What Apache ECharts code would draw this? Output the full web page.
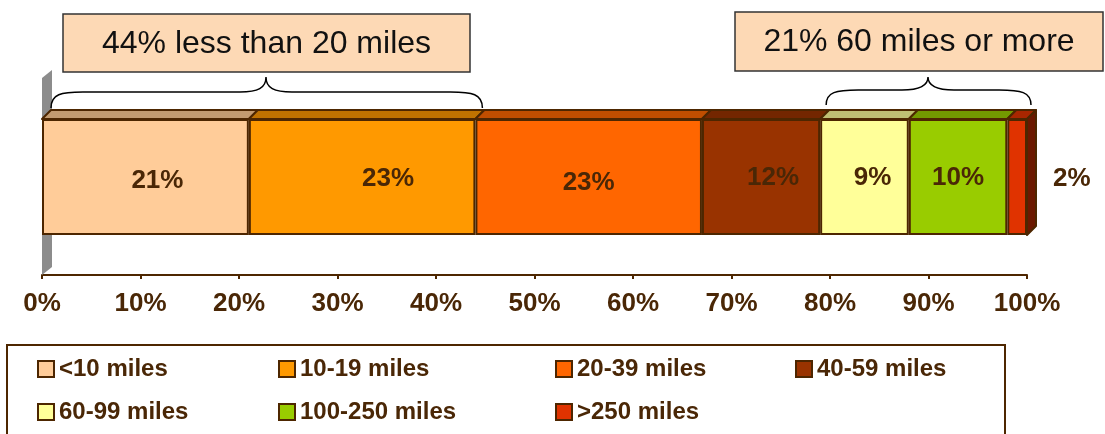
<!DOCTYPE html>
<html>
<head>
<meta charset="utf-8">
<script src="https://cdn.jsdelivr.net/npm/echarts@6/dist/echarts.min.js"></script>
<style>
html,body{margin:0;padding:0;background:#fff;}
#chart{width:1105px;height:434px;}
</style>
</head>
<body>
<div id="chart"></div>
<script>
// ---- data ----
const categories = ['<10 miles', '10-19 miles', '20-39 miles', '40-59 miles', '60-99 miles', '100-250 miles', '>250 miles'];
const values = [21, 23, 23, 12, 9, 10, 2];
const tickLabels = ['0%', '10%', '20%', '30%', '40%', '50%', '60%', '70%', '80%', '90%', '100%'];
const calloutTexts = ['44% less than 20 miles', '21% 60 miles or more'];
const calloutGroups = [[0, 1], [4, 6]]; // category index ranges covered by each brace

// ---- styles ----
const frontColors = ['#ffcc99', '#ff9900', '#ff6600', '#993300', '#ffff99', '#99cc00', '#e03300'];
const topColors   = ['#c39b70', '#c07200', '#c04e00', '#732600', '#bfbf73', '#739900', '#a82600'];
const sideColors  = ['#8a6a48', '#864f00', '#863600', '#4f1a00', '#86864f', '#4f6b00', '#6b1800'];
const labelOffsets = [[12, 4], [26, 2], [0, 6], [12, 1], [8, 1], [0, 1], [0, 2]];
const braceGeom = [ // [left pad, right pad, tip x, end y, line y, tip y]
  [9, 7, 266, 108, 92, 77],
  [6, 4, 928, 105, 90, 77]
];
const brown = '#4d2600';
const textBrown = '#4a2706';
const FONT = 'Liberation Sans, Arial, sans-serif';
const DEPTH = 9;

const starts = [];
let acc = 0;
values.forEach(v => { starts.push(acc); acc += v; });

const chart = echarts.init(document.getElementById('chart'));

const barSeries = categories.map((name, i) => ({
  name: name,
  type: 'bar',
  stack: 'total',
  barWidth: '100%',
  z: 3,
  data: [values[i]],
  itemStyle: { color: frontColors[i], borderColor: brown, borderWidth: 2 },
  label: {
    show: true,
    position: i === categories.length - 1 ? 'right' : 'inside',
    distance: 26,
    offset: labelOffsets[i],
    formatter: '{c}%',
    fontFamily: FONT,
    fontWeight: 'bold',
    fontSize: 26,
    color: textBrown
  },
  emphasis: { disabled: true }
}));

const faceData = values.map((v, i) => [starts[i], starts[i] + v, i]);

const faceSeries = {
  type: 'custom',
  name: 'faces',
  z: 4,
  silent: true,
  encode: { x: [0, 1] },
  data: faceData,
  renderItem: function (params, api) {
    const s = api.value(0), e = api.value(1), i = api.value(2);
    const p0 = api.coord([s, 0]);
    const p1 = api.coord([e, 0]);
    const h = api.size([0, 1])[1];
    const yTop = p0[1] - h / 2, yBot = p0[1] + h / 2;
    const x0 = p0[0], x1 = p1[0], d = DEPTH;
    const children = [{
      type: 'polygon',
      shape: { points: [[x0, yTop], [x1, yTop], [x1 + d, yTop - d], [x0 + d, yTop - d]] },
      style: { fill: topColors[i], stroke: brown, lineWidth: 2, lineJoin: 'round' }
    }];
    if (i === values.length - 1) {
      children.push({
        type: 'polygon',
        shape: { points: [[x1, yTop], [x1 + d, yTop - d], [x1 + d, yBot - d], [x1, yBot]] },
        style: { fill: sideColors[i], stroke: brown, lineWidth: 2, lineJoin: 'round' }
      });
    }
    return { type: 'group', children: children };
  }
};

const wallSeries = {
  type: 'custom',
  name: 'wall',
  z: 1,
  silent: true,
  encode: { x: 0 },
  data: [[0]],
  renderItem: function (params, api) {
    const p = api.coord([0, 0]);
    const h = api.size([0, 1])[1];
    const yTop = p[1] - h / 2, yBot = p[1] + h / 2;
    const x = p[0];
    return {
      type: 'polygon',
      shape: { points: [[x, yTop - 41], [x + 10, yTop - 49], [x + 10, yBot + 32], [x, yBot + 40]] },
      style: { fill: '#8c8c8c' }
    };
  }
};

function bracePath(xa, xb, xm, yEnd, yLine, yTip) {
  return 'M' + xa + ' ' + yEnd +
    ' C' + xa + ' ' + (yLine + 2) + ' ' + (xa + 10) + ' ' + yLine + ' ' + (xa + 32) + ' ' + yLine +
    ' L' + (xm - 26) + ' ' + yLine +
    ' C' + (xm - 8) + ' ' + yLine + ' ' + xm + ' ' + (yLine - 4) + ' ' + xm + ' ' + yTip +
    ' C' + xm + ' ' + (yLine - 4) + ' ' + (xm + 8) + ' ' + yLine + ' ' + (xm + 26) + ' ' + yLine +
    ' L' + (xb - 32) + ' ' + yLine +
    ' C' + (xb - 10) + ' ' + yLine + ' ' + xb + ' ' + (yLine + 2) + ' ' + xb + ' ' + yEnd;
}

const braceData = calloutGroups.map((g, k) => [starts[g[0]], starts[g[1]] + values[g[1]], k]);

const braceSeries = {
  type: 'custom',
  name: 'braces',
  z: 10,
  silent: true,
  encode: { x: [0, 1] },
  data: braceData,
  renderItem: function (params, api) {
    const k = api.value(2);
    const gm = braceGeom[k];
    const xa = api.coord([api.value(0), 0])[0] + gm[0];
    const xb = api.coord([api.value(1), 0])[0] + gm[1];
    return {
      type: 'path',
      shape: { pathData: bracePath(xa, xb, gm[2], gm[3], gm[4], gm[5]) },
      style: { fill: 'none', stroke: '#000000', lineWidth: 1.5 }
    };
  }
};

// legend layout: column x, row y
const legendCols = [37, 278, 555, 795];
const legendRows = [356, 399];
const legends = categories.map((name, i) => ({
  data: [name],
  left: legendCols[i % 4],
  top: legendRows[Math.floor(i / 4)],
  padding: 0,
  itemWidth: 16,
  itemHeight: 16,
  itemGap: 0,
  icon: 'rect',
  selectedMode: false,
  itemStyle: { borderColor: brown, borderWidth: 2 },
  textStyle: { fontFamily: FONT, fontWeight: 'bold', fontSize: 24, color: textBrown, lineHeight: 26 }
}));

const boxes = [
  { x: 63, y: 14, w: 407, h: 58, text: calloutTexts[0] },
  { x: 735, y: 12, w: 368, h: 59, text: calloutTexts[1] }
];

const graphics = [];
boxes.forEach(b => {
  graphics.push({
    type: 'rect',
    shape: { x: b.x, y: b.y, width: b.w, height: b.h },
    style: { fill: '#fdd9b5', stroke: '#333333', lineWidth: 1.5 },
    z: 10
  });
  graphics.push({
    type: 'text',
    x: b.x + b.w / 2,
    y: b.y + b.h / 2 + 1,
    style: {
      text: b.text, fill: '#111111', font: '32px ' + FONT,
      textAlign: 'center', textVerticalAlign: 'middle'
    },
    z: 11
  });
});
graphics.push({
  type: 'rect',
  shape: { x: 7, y: 345, width: 998, height: 120 },
  style: { fill: 'none', stroke: brown, lineWidth: 2 },
  z: 0
});

chart.setOption({
  animation: false,
  backgroundColor: '#ffffff',
  grid: { left: 42, right: 78, top: 119, height: 116, containLabel: false },
  xAxis: {
    type: 'value',
    min: 0,
    max: 100,
    interval: 10,
    offset: 40,
    axisLine: { show: true, lineStyle: { color: brown, width: 2 } },
    axisTick: { show: true, length: 4, lineStyle: { color: brown, width: 2 } },
    splitLine: { show: false },
    axisLabel: {
      margin: 16,
      formatter: function (v) { return tickLabels[Math.round(v / 10)]; },
      fontFamily: FONT,
      fontWeight: 'bold',
      fontSize: 26,
      color: textBrown
    }
  },
  yAxis: { type: 'category', data: ['Trips'], show: false },
  legend: legends,
  graphic: graphics,
  series: [wallSeries].concat(barSeries, [faceSeries, braceSeries])
});
</script>
</body>
</html>
